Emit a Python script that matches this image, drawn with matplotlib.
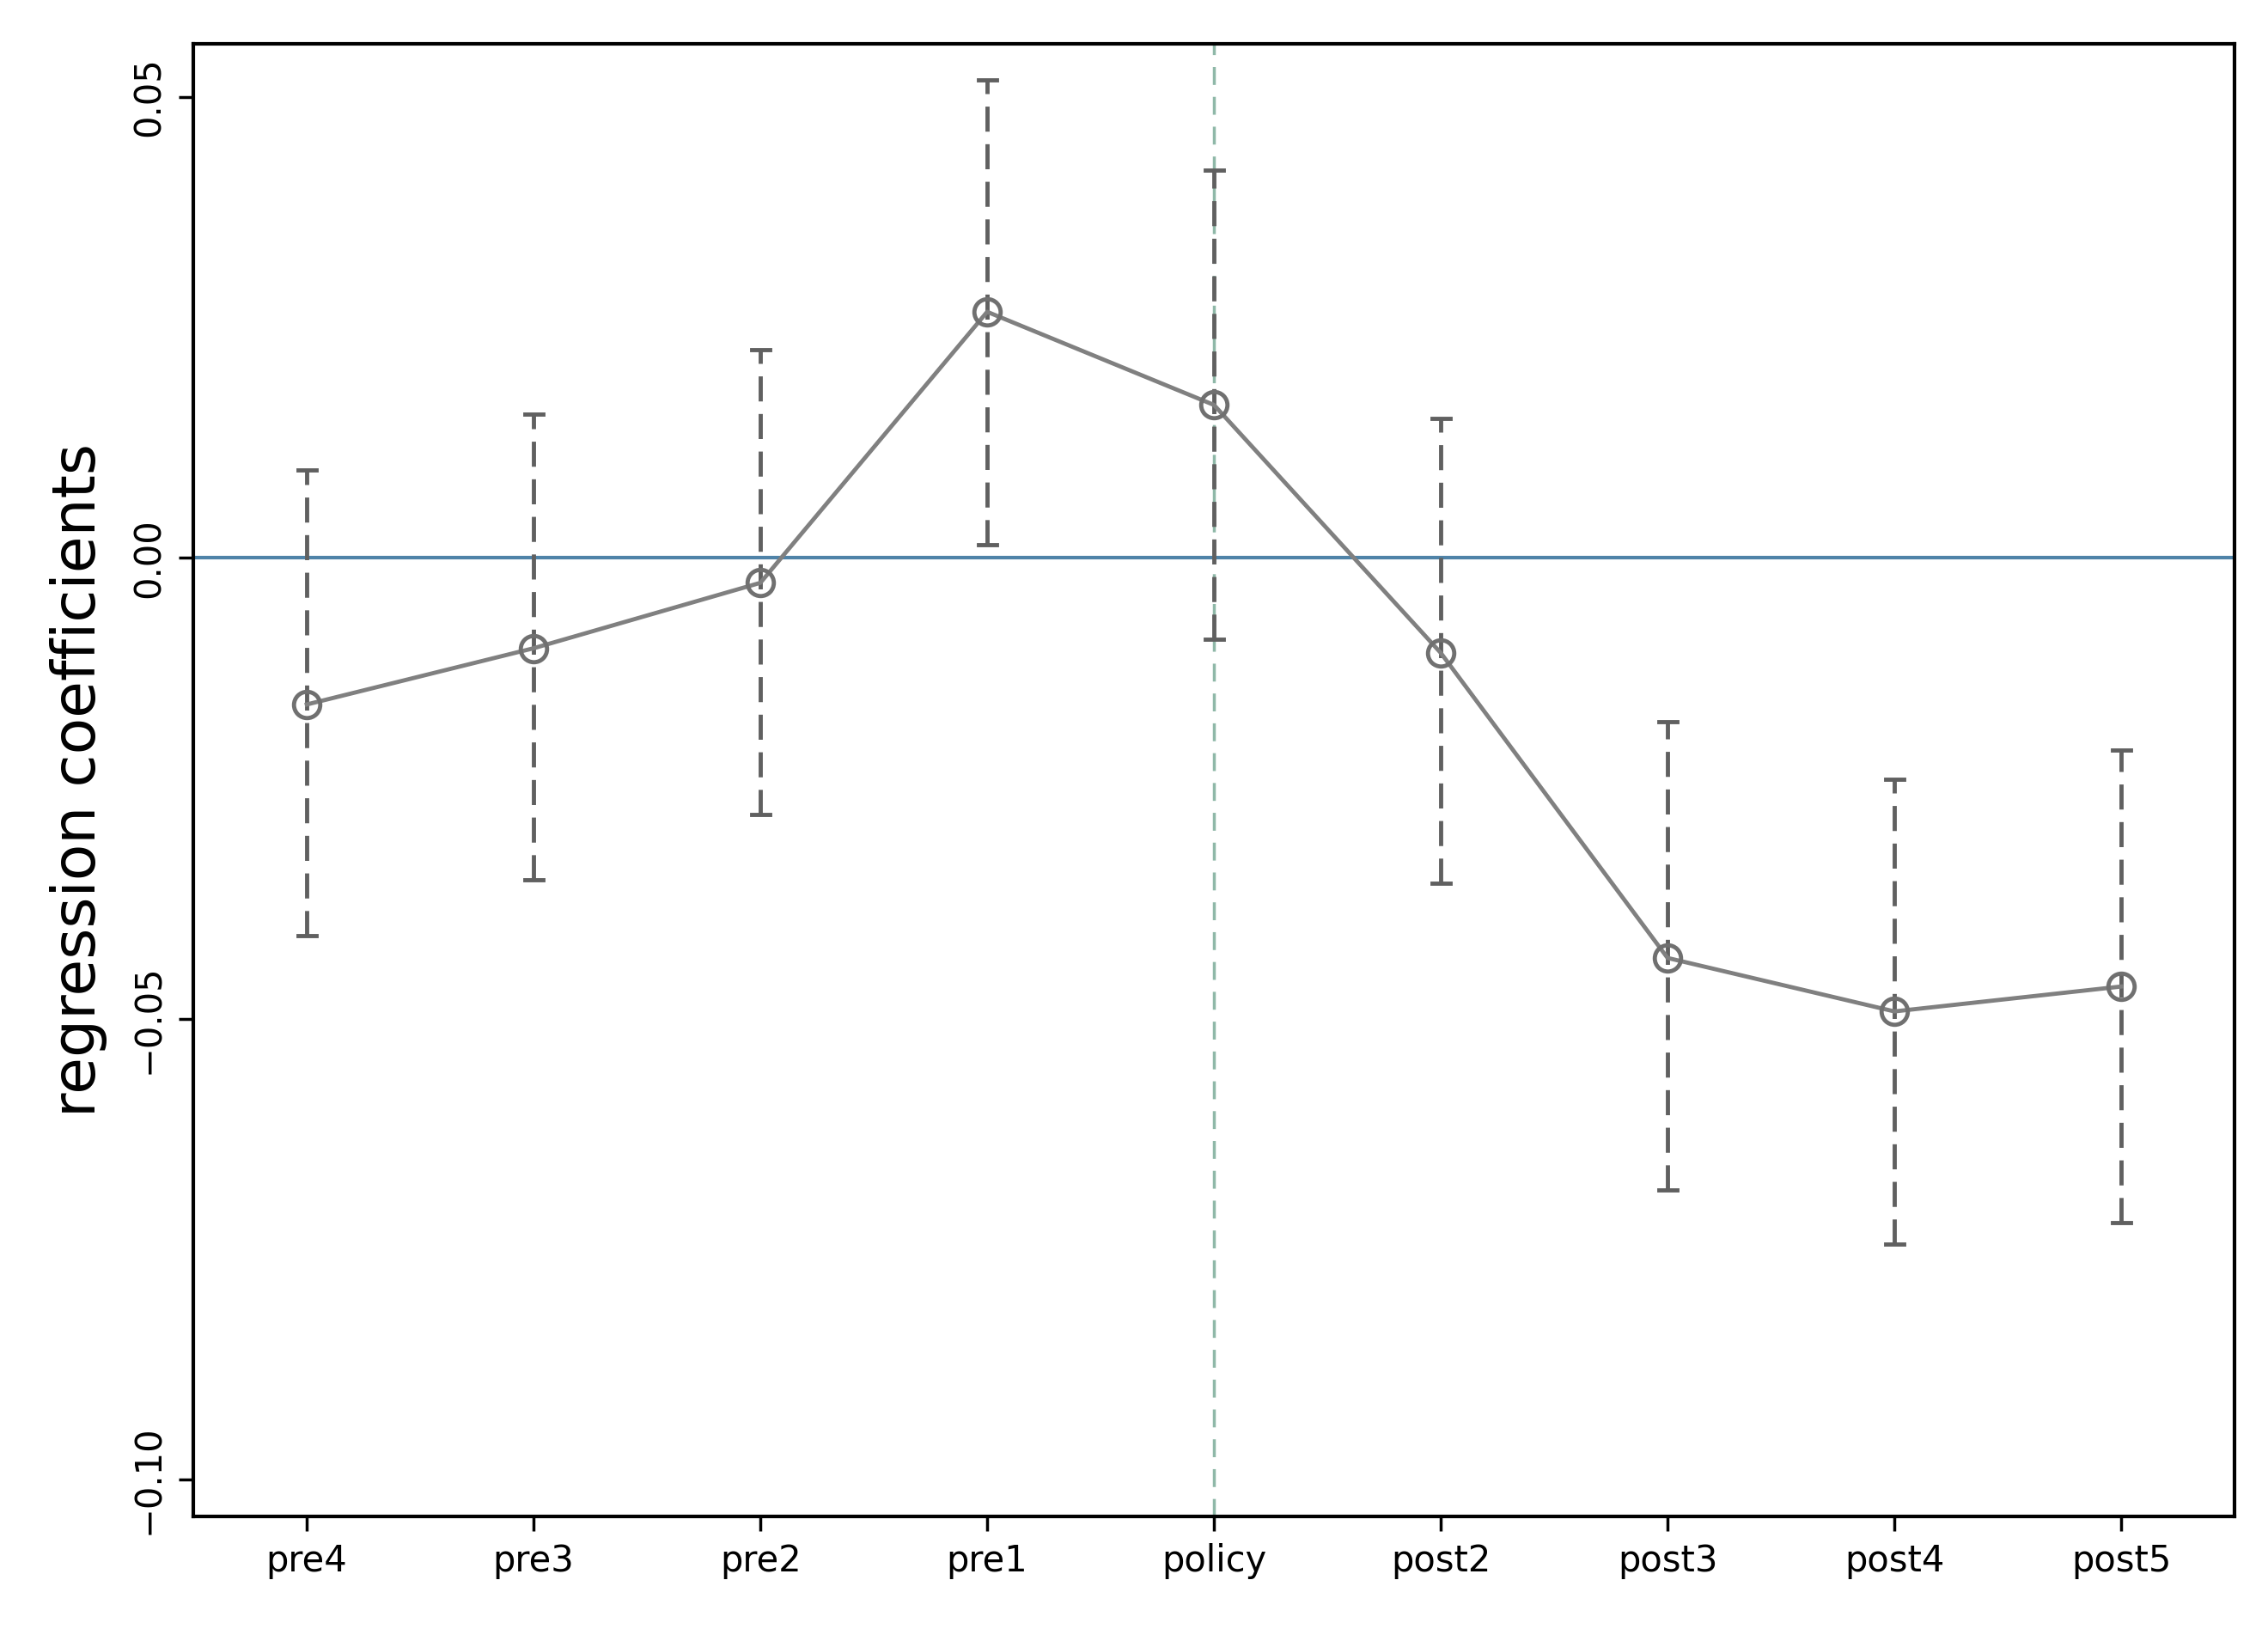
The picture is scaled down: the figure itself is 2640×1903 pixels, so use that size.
import matplotlib.pyplot as plt
import numpy as np

labels = ['pre4', 'pre3', 'pre2', 'pre1', 'policy', 'post2', 'post3', 'post4', 'post5']
coef = [-0.0159, -0.0098, -0.0027, 0.0267, 0.0166, -0.0103, -0.0434, -0.0492, -0.0465]
upper = [0.0095, 0.0156, 0.0226, 0.0519, 0.0421, 0.0151, -0.0178, -0.0240, -0.0208]
lower = [-0.0410, -0.0349, -0.0278, 0.0014, -0.0088, -0.0353, -0.0686, -0.0744, -0.0721]

fig = plt.figure(figsize=(26.4, 19.03), dpi=100)
ax = fig.add_axes([133 / 1560, 1 - 1043 / 1124.5, 1404 / 1560, 1013 / 1124.5])

x = np.arange(1, len(labels) + 1)
ax.axhline(0, color='#4f83a8', lw=3, zorder=1)
ax.axvline(5, color='#8fb8a8', lw=2.5, ls=(0, (6, 4)), zorder=1)

for xi, lo, hi in zip(x, lower, upper):
    ax.plot([xi, xi], [lo, hi], color='#606060', lw=3.5, ls=(0, (6, 3)), zorder=2)
    ax.plot([xi - 0.04, xi + 0.04], [hi, hi], color='#606060', lw=3.5, zorder=2)
    ax.plot([xi - 0.04, xi + 0.04], [lo, lo], color='#606060', lw=3.5, zorder=2)

ax.plot(x, coef, color='#808080', lw=3.5, marker='o', ms=22, mfc='none',
        mec='#707070', mew=3.5, zorder=3)

ax.set_xlim(0.5, 9.5)
ax.set_ylim(-0.104, 0.0558)
ax.set_xticks(x)
ax.set_xticklabels(labels, fontsize=30)
ax.set_yticks([-0.10, -0.05, 0.00, 0.05])
ax.set_yticklabels(['\u22120.10', '\u22120.05', '0.00', '0.05'], fontsize=30, rotation=90, va='center')
ax.tick_params(length=12, width=2.5, pad=10)
ax.set_ylabel('regression coefficients', fontsize=50, labelpad=20)
for s in ax.spines.values():
    s.set_linewidth(3)

fig.savefig('out.png', dpi=100)
